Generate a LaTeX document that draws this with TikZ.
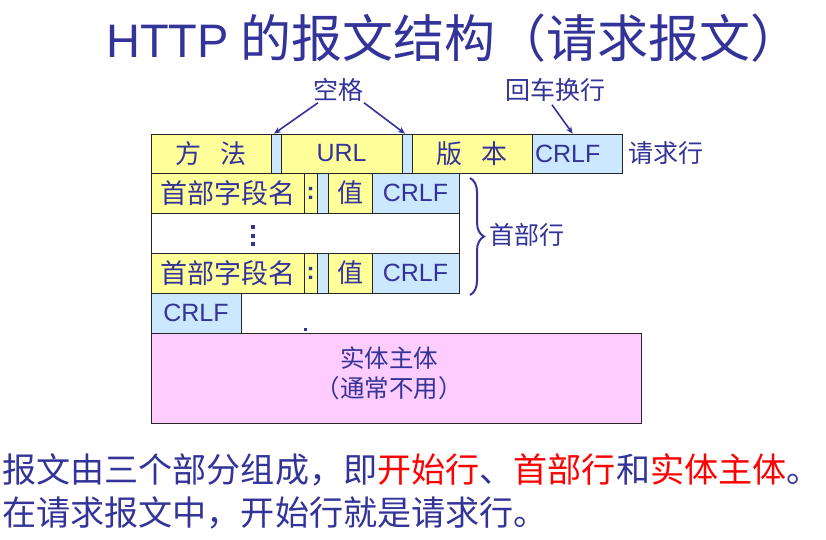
\documentclass[tikz,border=0pt]{standalone}
\usepackage{fontspec}
\setmainfont{Noto Sans CJK SC}
\newfontfamily\lat{Liberation Sans}
\usetikzlibrary{calc,arrows.meta,decorations.pathreplacing}
\definecolor{tc}{RGB}{51,51,153}
\definecolor{yel}{RGB}{255,255,153}
\definecolor{lb}{RGB}{204,232,255}
\definecolor{pk}{RGB}{255,204,255}
\newcommand\mycrlf{{\lat\fontsize{25}{25}\selectfont CRLF}}
\begin{document}
\begin{tikzpicture}[x=1pt,y=-1pt,
  box/.style={draw=black!85, line width=0.7pt, inner sep=0pt, text=tc, font=\fontsize{26}{26}\selectfont},
  ybox/.style={box, fill=yel},
  bbox/.style={box, fill=lb},
  wbox/.style={box, fill=white},
  lab/.style={text=tc, inner sep=0pt, font=\fontsize{25}{25}\selectfont},
  arr/.style={draw=tc, line width=1.6pt, -{Stealth[length=7pt,width=6pt]}},
  tdot/.style={fill=tc, draw=none, minimum width=3.5pt, minimum height=4pt, inner sep=0pt}]
\useasboundingbox[fill=white] (0,0) rectangle (826,539);

% title
\node[anchor=west, inner sep=0pt, text=tc, font=\fontsize{51}{51}\selectfont] (title) at (106,38) {{\lat\fontsize{47}{47}\selectfont HTTP} 的报文结构（请求报文）};

% request line
\node[ybox, minimum width=120pt, minimum height=39pt] (m) at (211,153.5) {方\hspace{0.75em}法};
\node[bbox, minimum width=10pt, minimum height=39pt] (g1) at (276,153.5) {};
\node[ybox, minimum width=121pt, minimum height=39pt] (url) at (341.5,153.5) {\lat\fontsize{25}{25}\selectfont URL};
\node[bbox, minimum width=10pt, minimum height=39pt] (g2) at (407,153.5) {};
\node[ybox, minimum width=120pt, minimum height=39pt] (ver) at (472,153.5) {版\hspace{0.75em}本};
\node[bbox, minimum width=90pt, minimum height=39pt, text width=84pt, inner xsep=3pt, align=left] (c1) at (577,153.5) {\mycrlf};
\node[lab, anchor=west] (reql) at (628,153.5) {请求行};

% header line 1
\node[ybox, minimum width=153pt, minimum height=40pt, font=\fontsize{27}{27}\selectfont] (h1) at (227.5,193) {首部字段名};
\node[ybox, minimum width=13pt, minimum height=40pt, font=\lat\bfseries\fontsize{24}{24}\selectfont] (k1) at (310.5,193) {:};
\node[bbox, minimum width=11pt, minimum height=40pt] (s1) at (322.5,193) {};
\node[ybox, minimum width=44pt, minimum height=40pt] (v1) at (350,193) {值};
\node[bbox, minimum width=87pt, minimum height=40pt] (c2) at (415.5,193) {\mycrlf};

% dots row
\node[wbox, minimum width=308pt, minimum height=40pt] (dr) at (305,233) {};
\node[tdot] (d1) at (253,227) {};
\node[tdot] (d2) at (253,235.5) {};
\node[tdot] (d3) at (253,244) {};

% header line 2
\node[ybox, minimum width=153pt, minimum height=40pt, font=\fontsize{27}{27}\selectfont] (h2) at (227.5,273) {首部字段名};
\node[ybox, minimum width=13pt, minimum height=40pt, font=\lat\bfseries\fontsize{24}{24}\selectfont] (k2) at (310.5,273) {:};
\node[bbox, minimum width=11pt, minimum height=40pt] (s2) at (322.5,273) {};
\node[ybox, minimum width=44pt, minimum height=40pt] (v2) at (350,273) {值};
\node[bbox, minimum width=87pt, minimum height=40pt] (c3) at (415.5,273) {\mycrlf};

% empty line
\node[bbox, minimum width=90pt, minimum height=40pt] (c4) at (196,313) {\mycrlf};
\node[tdot, minimum width=3pt, minimum height=3pt] (sd) at (305,329) {};

% entity body
\node[box, fill=pk, minimum width=490pt, minimum height=90pt] (body) at (396,378) {};
\node[lab, font=\fontsize{24.5}{24.5}\selectfont] (bt1) at (389,358) {实体主体};
\node[lab, font=\fontsize{24.5}{24.5}\selectfont] (bt2) at (389,388) {（通常不用）};

% labels and arrows
\node[lab] (sp) at (338,90) {空格};
\node[lab] (cr) at (555,90) {回车换行};
\draw[arr] ($(sp.south)+(-20,1)$) -- ($(g1.north)+(-2,0)$);
\draw[arr] ($(sp.south)+(26,1)$) -- ($(g2.north)+(-2,0)$);
\draw[arr] ($(cr.south)+(-3,3)$) -- ($(c1.north west)+(41,0)$);

% brace
\coordinate (bt) at (470,178);
\coordinate (bb) at (470,295);
\draw[tc, line width=2pt, decorate, decoration={brace, amplitude=14pt}] (bt) -- (bb);
\node[lab, anchor=west] (hl) at (489,235) {首部行};

% bottom text
\node[anchor=west, inner sep=0pt, text=tc, font=\fontsize{34.1}{34.1}\selectfont] (b1) at (2,470) {报文由三个部分组成，即\textcolor{red}{开始行}、\textcolor{red}{首部行}和\textcolor{red}{实体主体}。};
\node[anchor=west, inner sep=0pt, text=tc, font=\fontsize{34.1}{34.1}\selectfont] (b2) at (2,513) {在请求报文中，开始行就是请求行。};
\end{tikzpicture}
\end{document}
